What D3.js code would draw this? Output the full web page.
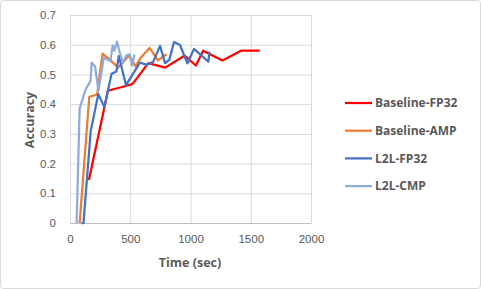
<!DOCTYPE html>
<html>
<head>
<meta charset="utf-8">
<script src="https://cdn.jsdelivr.net/npm/d3@7"></script>
<style>
  body { margin: 0; background: #fff; }
  svg { display: block; font-family: "Open Sans", "Noto Sans", sans-serif; }
</style>
</head>
<body>
<svg id="chart" width="481" height="289"></svg>
<script>
// values: [time (sec), accuracy]
var baselineFP32 = [[157,0.145],[315,0.445],[470,0.462],[520,0.468],[650,0.538],[790,0.523],[950,0.563],[1045,0.53],[1105,0.58],[1265,0.547],[1420,0.58],[1575,0.58]];
var baselineAMP = [[80,0],[160,0.425],[225,0.432],[270,0.57],[330,0.55],[400,0.523],[490,0.563],[545,0.527],[590,0.558],[660,0.589],[730,0.547],[800,0.568]];
var l2lFP32 = [[95,0],[112,0],[172,0.31],[235,0.434],[285,0.39],[345,0.502],[385,0.51],[405,0.562],[465,0.464],[580,0.54],[636,0.532],[691,0.543],[747,0.596],[789,0.538],[824,0.549],[863,0.609],[913,0.599],[974,0.537],[1029,0.586],[1148,0.543],[1158,0.577]];
var l2lCMP = [[55,0],[80,0.385],[130,0.45],[170,0.478],[180,0.54],[208,0.527],[236,0.445],[280,0.556],[335,0.545],[355,0.598],[368,0.58],[390,0.61],[410,0.578],[440,0.54],[470,0.565],[495,0.568],[515,0.53],[535,0.567]];

var seriesNames = ["Baseline-FP32", "Baseline-AMP", "L2L-FP32", "L2L-CMP"];
var seriesColors = ["#ff0000", "#ed7d31", "#4472c4", "#8faadc"];
var xTicks = [0, 500, 1000, 1500, 2000];
var yTicks = [0, 0.1, 0.2, 0.3, 0.4, 0.5, 0.6, 0.7];

var margin = {top: 15, left: 70},
    width = 241,
    height = 208;

var svg = d3.select("#chart");

// outer chart border
svg.append("rect")
    .attr("x", 0.5).attr("y", 0.5)
    .attr("width", 480).attr("height", 288)
    .attr("rx", 3)
    .attr("fill", "#fff")
    .attr("stroke", "#d9d9d9");

var g = svg.append("g")
    .attr("transform", "translate(" + margin.left + "," + margin.top + ")");

var x = d3.scaleLinear().domain([0, 2000]).range([0, width]);
var y = d3.scaleLinear().domain([0, 0.7]).range([height, 0]);

// gridlines
g.append("g")
    .call(d3.axisLeft(y).tickValues(yTicks).tickSize(-width).tickFormat(""))
    .call(function(a) { a.select(".domain").remove(); })
    .selectAll("line").attr("stroke", "#d9d9d9");

g.append("g")
    .attr("transform", "translate(0," + height + ")")
    .call(d3.axisBottom(x).tickValues(xTicks).tickSize(-height).tickFormat(""))
    .call(function(a) { a.select(".domain").remove(); })
    .selectAll("line").attr("stroke", "#d9d9d9");

// tick labels
var yAxis = g.append("g")
    .call(d3.axisLeft(y).tickValues(yTicks).tickSize(0).tickPadding(14)
        .tickFormat(function(d) { return d === 0 ? "0" : d3.format(".1f")(d); }));
yAxis.select(".domain").remove();

var xAxis = g.append("g")
    .attr("transform", "translate(0," + height + ")")
    .call(d3.axisBottom(x).tickValues(xTicks).tickSize(0).tickPadding(12).tickFormat(d3.format("d")));
xAxis.select(".domain").attr("stroke", "#bfbfbf");

g.selectAll(".tick text")
    .attr("fill", "#595959")
    .style("font-size", "11.5px");

// lines
var line = d3.line()
    .x(function(d) { return x(d[0]); })
    .y(function(d) { return y(d[1]); });

var allSeries = [baselineFP32, baselineAMP, l2lFP32, l2lCMP];

g.selectAll(".series")
    .data(allSeries)
    .enter()
    .append("path")
        .attr("class", "series")
        .attr("d", line)
        .attr("fill", "none")
        .attr("stroke", function(d, i) { return seriesColors[i]; })
        .attr("stroke-width", 2.25)
        .attr("stroke-linejoin", "round");

// axis titles
svg.append("text")
    .attr("transform", "translate(34,120)rotate(-90)")
    .attr("text-anchor", "middle")
    .attr("fill", "#595959")
    .style("font-size", "12.5px")
    .style("font-weight", "bold")
    .text("Accuracy");

svg.append("text")
    .attr("x", 190)
    .attr("y", 267)
    .attr("text-anchor", "middle")
    .attr("fill", "#595959")
    .style("font-size", "12.5px")
    .style("font-weight", "bold")
    .text("Time (sec)");

// legend
var legend = svg.selectAll(".legend")
    .data(seriesNames)
    .enter()
    .append("g")
        .attr("class", "legend")
        .attr("transform", function(d, i) { return "translate(345," + (103 + i * 27.7) + ")"; });

legend.append("line")
    .attr("x1", 0).attr("x2", 27)
    .attr("stroke", function(d, i) { return seriesColors[i]; })
    .attr("stroke-width", 2.25);

legend.append("text")
    .attr("x", 30)
    .attr("dy", "0.35em")
    .attr("fill", "#595959")
    .style("font-size", "12px")
    .style("font-weight", "bold")
    .text(function(d) { return d; });
</script>
</body>
</html>
